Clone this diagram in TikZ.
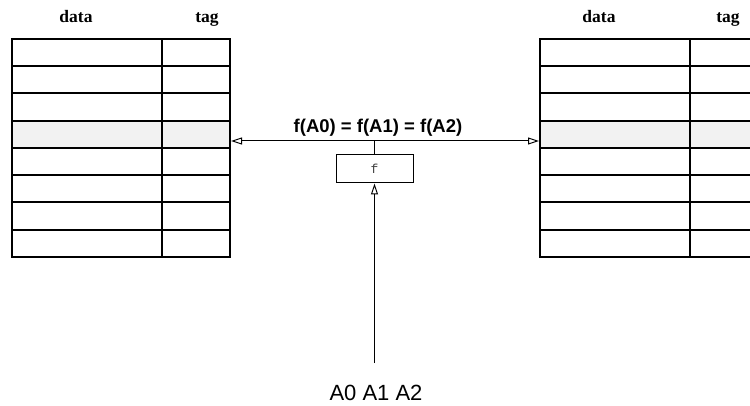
\documentclass[tikz,border=0pt]{standalone}
\usepackage{fontspec}
\setmainfont{Liberation Serif}
\setsansfont{Liberation Sans}
\setmonofont{Liberation Mono}
\usetikzlibrary{arrows.meta}
\tikzset{
  cell/.style={draw=black, line width=2pt, inner sep=0pt, minimum height=27.25pt, anchor=north west},
  datacell/.style={cell, minimum width=150pt},
  tagcell/.style={cell, minimum width=68pt},
  hl/.style={fill=black!5},
  head/.style={font=\bfseries\fontsize{17.5}{20}\selectfont, anchor=base, inner sep=0pt},
  conn/.style={draw=black, line width=1pt},
  otip/.style={-{Triangle[open, length=11pt, width=7pt]}},
}
\begin{document}
\begin{tikzpicture}[x=1pt,y=-1pt]
\useasboundingbox (0,0) rectangle (750,406);
\clip (0,0) rectangle (750,406);
% left table
\foreach \i in {0,...,7}{
  \ifnum\i=3
    \node[datacell,hl] (Ld\i) at (11,{38+\i*27.25}) {};
    \node[tagcell,hl] (Lt\i) at (161,{38+\i*27.25}) {};
  \else
    \node[datacell] (Ld\i) at (11,{38+\i*27.25}) {};
    \node[tagcell] (Lt\i) at (161,{38+\i*27.25}) {};
  \fi
}
% right table
\foreach \i in {0,...,7}{
  \ifnum\i=3
    \node[datacell,hl] (Rd\i) at (539,{38+\i*27.25}) {};
    \node[tagcell,hl] (Rt\i) at (689,{38+\i*27.25}) {};
  \else
    \node[datacell] (Rd\i) at (539,{38+\i*27.25}) {};
    \node[tagcell] (Rt\i) at (689,{38+\i*27.25}) {};
  \fi
}
\node[head] (Lh1) at (76,23) {data};
\node[head] (Lh2) at (207,23) {tag};
\node[head] (Rh1) at (599,23) {data};
\node[head] (Rh2) at (728,23) {tag};
% function box
\node[draw=black, line width=1pt, minimum width=77pt, minimum height=28pt, inner sep=0pt,
      font=\ttfamily\fontsize{13}{15}\selectfont, text=black!75] (fb) at (374.5,169) {f};
\coordinate (j) at (374.5,141);
\node[font=\sffamily\bfseries\fontsize{18.5}{22}\selectfont, anchor=base, inner sep=0pt] (eq) at (378,133) {f(A0) = f(A1) = f(A2)};
\node[font=\sffamily\fontsize{22}{26}\selectfont, anchor=base, inner sep=0pt] (in) at (376,400) {A0 A1 A2};
\coordinate (src) at (374.5,363);
\draw[conn] (fb.north) -- (j);
\draw[conn,otip] (j) -- (j -| Lt3.east);
\draw[conn,otip] (j) -- (j -| Rd3.west);
\draw[conn,otip] (src) -- (fb.south);
\end{tikzpicture}
\end{document}
